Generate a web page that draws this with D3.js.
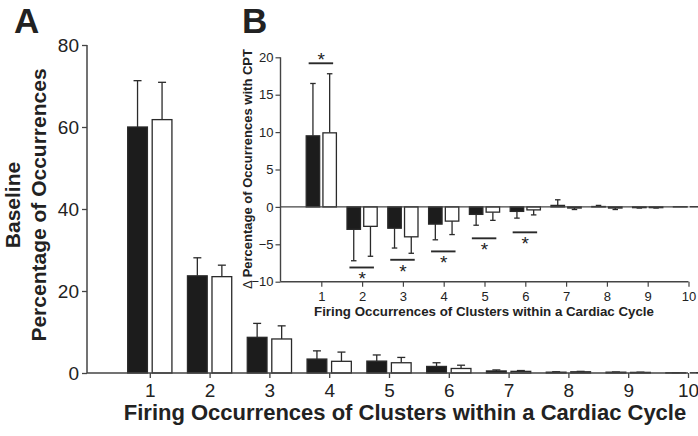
<!DOCTYPE html>
<html><head><meta charset="utf-8">
<script src="https://cdn.jsdelivr.net/npm/d3@7"></script>
<style>
html,body{margin:0;padding:0;background:#fff;}
text{font-family:"Liberation Sans",Arial,sans-serif;fill:#222;}
</style></head>
<body><svg id="c" width="698" height="436"></svg>
<script>
// ---- data ----
const categories = [1,2,3,4,5,6,7,8,9,10];
// Panel A: baseline percentage of occurrences
const baseBlack    = [60.0, 23.7, 8.7, 3.4, 2.9, 1.6, 0.5, 0.2, 0.2, 0.05];
const baseBlackErr = [11.3, 4.4, 3.4, 2.0, 1.5, 0.9, 0.25, 0.1, 0.05, 0.02];
const baseWhite    = [61.8, 23.5, 8.3, 2.85, 2.5, 1.1, 0.4, 0.3, 0.15, 0.05];
const baseWhiteErr = [9.1, 2.8, 3.2, 2.25, 1.3, 0.8, 0.2, 0.1, 0.05, 0.02];
const yTicksA = [0,20,40,60,80];
// Panel B: change with CPT
const dBlack    = [9.5, -3.0, -2.85, -2.3, -1.0, -0.6, 0.2, 0.05, -0.1, 0.02];
const dBlackErr = [7.0, 4.2, 2.65, 2.1, 1.45, 0.9, 0.75, 0.15, 0.05, 0.0];
const dWhite    = [9.9, -2.6, -4.0, -1.9, -0.7, -0.4, -0.15, -0.15, -0.1, 0.02];
const dWhiteErr = [7.9, 4.0, 2.2, 1.8, 1.1, 0.67, 0.2, 0.2, 0.05, 0.0];
const sigCats   = [1,2,3,4,5,6];
const sigLevels = [19.2, -8.1, -7.07, -5.95, -4.2, -3.4];
const yTicksB = [-10,-5,0,5,10,15,20];

const svg = d3.select("#c");
const ink = "#2a2a2a", axisCol = "#444";

function drawBars(g, x, y, blk, blkErr, wht, whtErr, capW, y0) {
  const series = [
    {vals: blk, err: blkErr, fill: "#1c1c1c", off0: -0.37, off1: -0.04},
    {vals: wht, err: whtErr, fill: "#fff", off0: 0.04, off1: 0.37}
  ];
  series.forEach(s => {
    const d = categories.map((c,i)=>({c, v:s.vals[i], e:s.err[i]}));
    d.forEach(p => {
      const cx = (x(p.c + s.off0) + x(p.c + s.off1)) / 2;
      const tip = p.v >= 0 ? p.v + p.e : p.v - p.e;
      if (p.e > 0) {
        g.append("line").attr("x1",cx).attr("x2",cx).attr("y1",y(p.v)).attr("y2",y(tip))
          .attr("stroke",ink).attr("stroke-width",1.3);
        g.append("line").attr("x1",cx-capW/2).attr("x2",cx+capW/2).attr("y1",y(tip)).attr("y2",y(tip))
          .attr("stroke",ink).attr("stroke-width",1.3);
      }
    });
    g.selectAll(null).data(d).enter().append("rect")
      .attr("x", p => x(p.c + s.off0))
      .attr("width", p => x(p.c + s.off1) - x(p.c + s.off0))
      .attr("y", p => Math.min(y(p.v), y(y0)))
      .attr("height", p => Math.abs(y(p.v) - y(y0)))
      .attr("fill", s.fill).attr("stroke", ink).attr("stroke-width", 1.3);
  });
}

// ---- Panel A ----
const xA = d3.scaleLinear().domain([0,10]).range([90,688]);
const yA = d3.scaleLinear().domain([0,80]).range([373,45]);
const gA = svg.append("g");
const axLeftA = 87;
drawBars(gA, xA, yA, baseBlack, baseBlackErr, baseWhite, baseWhiteErr, 8, 0);
const yAxA = gA.append("g").attr("transform",`translate(${axLeftA},0)`)
  .call(d3.axisLeft(yA).tickValues(yTicksA).tickSize(5).tickPadding(3));
const xAxA = gA.append("g").attr("transform",`translate(0,${yA(0)})`)
  .call(d3.axisBottom(xA).tickValues(categories).tickSize(5).tickPadding(6));
[yAxA, xAxA].forEach(a => {
  a.select(".domain").remove();
  a.selectAll(".tick line").attr("stroke",axisCol).attr("stroke-width",1.3);
  a.selectAll(".tick text").attr("font-size",19).attr("fill","#222")
   .attr("font-family",'"Liberation Sans",Arial,sans-serif');
});
gA.append("line").attr("x1",axLeftA).attr("x2",axLeftA).attr("y1",yA(80)).attr("y2",yA(0))
  .attr("stroke",axisCol).attr("stroke-width",1.5);
gA.append("line").attr("x1",axLeftA).attr("x2",xA(10)).attr("y1",yA(0)).attr("y2",yA(0))
  .attr("stroke",axisCol).attr("stroke-width",1.5);
svg.append("text").attr("x",405).attr("y",420).attr("text-anchor","middle")
  .attr("font-size",22).attr("font-weight","bold").text("Firing Occurrences of Clusters within a Cardiac Cycle");
const ylab = svg.append("text").attr("transform","translate(20,205) rotate(-90)")
  .attr("text-anchor","middle").attr("font-size",21).attr("font-weight","bold");
ylab.append("tspan").attr("x",0).attr("y",0).text("Baseline");
ylab.append("tspan").attr("x",0).attr("y",26).text("Percentage of Occurrences");
svg.append("text").attr("x",14).attr("y",33).attr("font-size",35).attr("font-weight","bold").text("A");

// ---- Panel B (inset) ----
const xB = d3.scaleLinear().domain([0,10]).range([280.5,688.5]);
const yB = d3.scaleLinear().domain([-10,20]).range([281.7,57.3]);
const gB = svg.append("g");
drawBars(gB, xB, yB, dBlack, dBlackErr, dWhite, dWhiteErr, 5.5, 0);
const yAxB = gB.append("g").attr("transform",`translate(${xB(0)},0)`)
  .call(d3.axisLeft(yB).tickValues(yTicksB).tickSize(5).tickPadding(2));
const xAxB = gB.append("g").attr("transform",`translate(0,${yB(-10)})`)
  .call(d3.axisBottom(xB).tickValues(categories).tickSize(5).tickPadding(5));
[yAxB, xAxB].forEach(a => {
  a.select(".domain").remove();
  a.selectAll(".tick line").attr("stroke",axisCol).attr("stroke-width",1.2);
  a.selectAll(".tick text").attr("font-size",13).attr("fill","#222")
   .attr("font-family",'"Liberation Sans",Arial,sans-serif');
});
gB.append("line").attr("x1",xB(0)).attr("x2",xB(0)).attr("y1",yB(20)).attr("y2",yB(-10))
  .attr("stroke",axisCol).attr("stroke-width",1.4);
gB.append("line").attr("x1",xB(0)).attr("x2",xB(10)).attr("y1",yB(-10)).attr("y2",yB(-10))
  .attr("stroke",axisCol).attr("stroke-width",1.4);
gB.append("line").attr("x1",xB(0)).attr("x2",xB(10)).attr("y1",yB(0)).attr("y2",yB(0))
  .attr("stroke",axisCol).attr("stroke-width",1.4);
// significance markers
sigCats.forEach((c,i) => {
  const lv = sigLevels[i];
  gB.append("line").attr("x1",xB(c-0.31)).attr("x2",xB(c+0.29)).attr("y1",yB(lv)).attr("y2",yB(lv))
    .attr("stroke",ink).attr("stroke-width",1.9);
  const sy = lv > 0 ? yB(lv) + 3 : yB(lv) + 18;
  gB.append("text").attr("x",xB(c)).attr("y",sy).attr("text-anchor","middle")
    .attr("font-size",19).text("*");
});
svg.append("text").attr("x",484).attr("y",316).attr("text-anchor","middle")
  .attr("font-size",13.3).attr("font-weight","bold").text("Firing Occurrences of Clusters within a Cardiac Cycle");
const ylabB = svg.append("text").attr("transform","translate(252,169) rotate(-90)")
  .attr("text-anchor","middle").attr("font-size",13).attr("font-weight","bold");
ylabB.append("tspan").attr("font-weight","normal").text("\u0394 ");
ylabB.append("tspan").text("Percentage of Occurrences with CPT");
svg.append("text").attr("x",242).attr("y",33).attr("font-size",35).attr("font-weight","bold").text("B");
</script></body></html>
